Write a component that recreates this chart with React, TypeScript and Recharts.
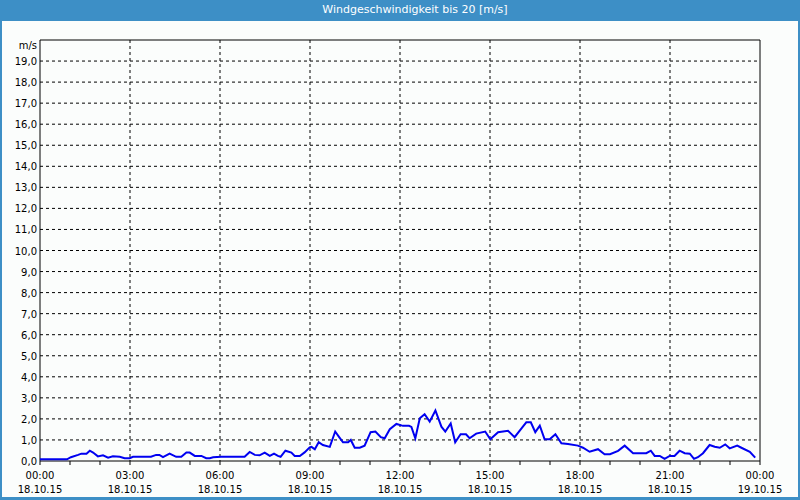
import { LineChart, Line, XAxis, YAxis, CartesianGrid, ReferenceArea } from "recharts";

// time of day in hours (0 = 18.10.15 00:00)
const hours = [
  0, 0.9, 1.03, 1.27, 1.38, 1.55, 1.66, 1.77, 1.93, 2.1, 2.27, 2.43, 2.66, 2.82, 2.99,
  3.1, 3.7, 3.87, 3.98, 4.1, 4.32, 4.54, 4.71, 4.88, 4.99, 5.16, 5.38, 5.54, 5.66, 5.77,
  6.04, 6.82, 6.99, 7.16, 7.32, 7.49, 7.66, 7.8, 7.93, 8.02, 8.18, 8.38, 8.49, 8.66, 8.82,
  8.99, 9.05, 9.16, 9.29, 9.43, 9.66, 9.84, 9.96, 10.1, 10.27, 10.36, 10.49, 10.66, 10.82,
  11.02, 11.18, 11.36, 11.49, 11.66, 11.88, 12.1, 12.3, 12.38, 12.51, 12.66, 12.82, 12.99,
  13.18, 13.38, 13.51, 13.69, 13.84, 14.02, 14.2, 14.32, 14.54, 14.84, 15.01, 15.27, 15.6,
  15.82, 16.07, 16.21, 16.36, 16.51, 16.66, 16.82, 16.99, 17.18, 17.38, 17.6, 17.93, 18.1,
  18.32, 18.6, 18.82, 19.0, 19.27, 19.49, 19.77, 20.21, 20.36, 20.49, 20.66, 20.82, 20.99,
  21.15, 21.32, 21.49, 21.66, 21.8, 21.93, 22.1, 22.32, 22.49, 22.66, 22.84, 22.99, 23.24,
  23.38, 23.66, 23.84,
];

// wind speed in m/s
const speed = [
  0.08, 0.08, 0.18, 0.29, 0.35, 0.35, 0.49, 0.4, 0.22, 0.27, 0.16, 0.22, 0.2, 0.13, 0.13,
  0.2, 0.2, 0.29, 0.29, 0.18, 0.35, 0.2, 0.2, 0.4, 0.4, 0.24, 0.24, 0.13, 0.13, 0.18,
  0.2, 0.2, 0.43, 0.29, 0.27, 0.4, 0.24, 0.35, 0.24, 0.2, 0.49, 0.4, 0.24, 0.24, 0.41,
  0.65, 0.67, 0.56, 0.89, 0.76, 0.67, 1.4, 1.16, 0.89, 0.89, 1.0, 0.63, 0.63, 0.73,
  1.37, 1.4, 1.13, 1.08, 1.51, 1.76, 1.67, 1.67, 1.62, 1.08, 2.03, 2.22, 1.87,
  2.4, 1.63, 1.4, 1.78, 0.89, 1.27, 1.27, 1.08, 1.3, 1.4, 1.03, 1.37, 1.44,
  1.13, 1.59, 1.84, 1.84, 1.37, 1.68, 1.03, 1.03, 1.27, 0.84, 0.81, 0.73, 0.63,
  0.44, 0.56, 0.32, 0.32, 0.48, 0.73, 0.37, 0.37, 0.49, 0.24, 0.24, 0.1, 0.24,
  0.24, 0.49, 0.37, 0.35, 0.1, 0.18, 0.37, 0.76, 0.68, 0.63, 0.79, 0.6, 0.73,
  0.63, 0.44, 0.16,
];

const xTicks = [0, 1, 2, 3, 4, 5, 6, 7, 8, 9, 10, 11, 12, 13, 14, 15, 16, 17, 18, 19, 20, 21, 22, 23, 24];
const gridHours = [3, 6, 9, 12, 15, 18, 21];
const timeLabels = ["00:00", "03:00", "06:00", "09:00", "12:00", "15:00", "18:00", "21:00", "00:00"];
const dateLabels = ["18.10.15", "18.10.15", "18.10.15", "18.10.15", "18.10.15", "18.10.15", "18.10.15", "18.10.15", "19.10.15"];
const yTicks = [0, 1, 2, 3, 4, 5, 6, 7, 8, 9, 10, 11, 12, 13, 14, 15, 16, 17, 18, 19, 20];
const gridSpeeds = [1, 2, 3, 4, 5, 6, 7, 8, 9, 10, 11, 12, 13, 14, 15, 16, 17, 18, 19];

const data = hours.map((h, i) => ({ h, v: speed[i] }));

const FONT = "'DejaVu Sans', Verdana, sans-serif";

function TimeTick(props: any) {
  const { x, y, payload } = props;
  if (payload.value % 3 !== 0) return null;
  const i = payload.value / 3;
  return (
    <g>
      <text x={x} y={y + 12} textAnchor="middle" fontSize={10} fontFamily={FONT} fill="#000">
        {timeLabels[i]}
      </text>
      <text x={x} y={y + 26} textAnchor="middle" fontSize={10} fontFamily={FONT} fill="#000">
        {dateLabels[i]}
      </text>
    </g>
  );
}

function SpeedTick(props: any) {
  const { x, y, payload } = props;
  const label = payload.value === 20 ? "m/s" : payload.value.toFixed(1).replace(".", ",");
  return (
    <text x={x} y={y + (payload.value === 20 ? 9 : 4)} textAnchor="end" fontSize={10} fontFamily={FONT} fill="#000">
      {label}
    </text>
  );
}

export default function App() {
  return (
    <div style={{ position: "absolute", left: 0, top: 0, width: 800, height: 500, background: "#3d8fc6" }}>
      <div
        style={{
          position: "absolute",
          left: 0,
          top: 0,
          width: 800,
          height: 20,
          lineHeight: "20px",
          color: "#fff",
          fontFamily: FONT,
          fontSize: 11,
          textAlign: "center",
          paddingLeft: 30,
          boxSizing: "border-box",
        }}
      >
        Windgeschwindigkeit bis 20 [m/s]
      </div>
      <div style={{ position: "absolute", left: 2, top: 21, width: 796, height: 476, background: "#fbfdfc" }} />
      <div style={{ position: "absolute", left: 0, top: 0 }}>
        <LineChart width={800} height={500} data={data} margin={{ top: 40, right: 40, bottom: 0, left: 0 }}>
          <CartesianGrid
            stroke="#000"
            strokeDasharray="3 3"
            horizontalValues={gridSpeeds}
            verticalValues={gridHours}
          />
          <XAxis
            dataKey="h"
            type="number"
            domain={[0, 24]}
            ticks={xTicks}
            interval={0}
            height={39}
            axisLine={false}
            tickLine={{ stroke: "#000" }}
            tickSize={4}
            tick={<TimeTick />}
          />
          <YAxis
            type="number"
            domain={[0, 20]}
            ticks={yTicks}
            interval={0}
            width={40}
            axisLine={false}
            tickLine={false}
            tickSize={3}
            tickMargin={0}
            tick={<SpeedTick />}
          />
          <Line
            type="linear"
            dataKey="v"
            stroke="#0000f0"
            strokeWidth={2}
            dot={false}
            isAnimationActive={false}
          />
          <ReferenceArea x1={0} x2={24} y1={0} y2={20} fill="none" stroke="#000" strokeWidth={1} ifOverflow="visible" />
        </LineChart>
      </div>
    </div>
  );
}
